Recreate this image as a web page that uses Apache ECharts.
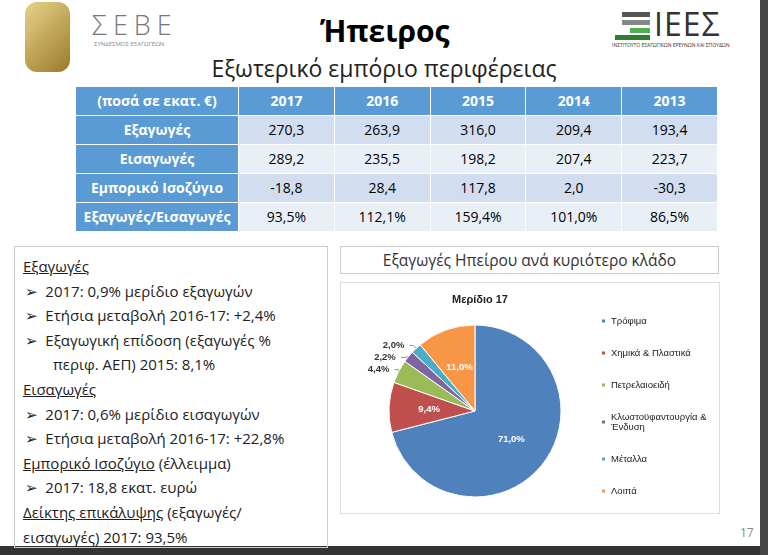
<!DOCTYPE html>
<html><head><meta charset="utf-8">
<script src="https://cdn.jsdelivr.net/npm/echarts@6/dist/echarts.min.js"></script>
<style>
body{margin:0;width:768px;height:555px;background:#fff;font-family:"Open Sans","DejaVu Sans",sans-serif;position:relative;overflow:hidden}
.abs{position:absolute}
table{border-collapse:collapse;font-size:14px;table-layout:fixed}
td{height:29px;line-height:28px;text-align:center;border:1px solid #fff;padding:0;box-sizing:border-box}
.h td{background:#5b9bd5;color:#fff;font-weight:bold}
tr td.f{background:#5b9bd5;color:#fff;font-weight:bold}
.r1 td{background:#d2def0}.r2 td{background:#e9eff7}
.left{left:14px;top:246px;width:314px;height:302px;border:1px solid #ccc;font-size:15px;line-height:24.6px;color:#222;box-sizing:border-box;padding-top:7px}
.left div{padding-left:8px;white-space:nowrap}.left .b{padding-left:10px}
</style></head><body>
<div class="abs" style="left:0;top:546px;width:768px;height:9px;background:#333"></div>
<div class="abs" style="left:760px;top:0;width:8px;height:555px;background:#444"></div>
<div class="abs" style="left:25px;top:2px;width:45px;height:70px;background:linear-gradient(135deg,#e8d38a,#9a7a2a);border-radius:12px"></div>
<div class="abs" style="left:92px;top:6px;font-size:27px;letter-spacing:6px;color:#777;font-weight:300">ΣΕΒΕ</div>
<div class="abs" style="left:94px;top:40px;font-size:6px;color:#888">ΣΥΝΔΕΣΜΟΣ ΕΞΑΓΩΓΕΩΝ</div>
<div class="abs" style="left:320px;top:10px;font-size:30px;font-weight:bold;color:#000">Ήπειρος</div>
<div class="abs" style="left:622px;top:12px;width:28px;height:5px;background:#555"></div>
<div class="abs" style="left:622px;top:20px;width:28px;height:5px;background:#888"></div>
<div class="abs" style="left:630px;top:28px;width:20px;height:5px;background:#4caf50"></div>
<div class="abs" style="left:615px;top:35px;width:35px;height:5px;background:#2e7d32"></div>
<div class="abs" style="left:654px;top:2px;font-size:32px;color:#333;letter-spacing:1px">ΙΕΕΣ</div>
<div class="abs" style="left:612px;top:42px;font-size:5px;color:#333">ΙΝΣΤΙΤΟΥΤΟ ΕΞΑΓΩΓΙΚΩΝ ΕΡΕΥΝΩΝ ΚΑΙ ΣΠΟΥΔΩΝ</div>
<div class="abs" style="left:0;width:768px;top:52px;text-align:center;font-size:23px;color:#222">Εξωτερικό εμπόριο περιφέρειας</div>
<table class="abs" style="left:75px;top:86px;width:643px" id="tbl"></table>
<div class="abs left" id="left"></div>
<div class="abs" style="left:340px;top:246px;width:377px;height:26px;border:1px solid #ccc;text-align:center;font-size:15.5px;line-height:26px;color:#333">Εξαγωγές Ηπείρου ανά κυριότερο κλάδο</div>
<div class="abs" style="left:340px;top:282px;width:378px;height:230px;border:1px solid #ddd" id="c"></div>
<div class="abs" style="left:740px;top:524px;font-size:12px;color:#888">17</div>
<script>
const years=['2017','2016','2015','2014','2013'];
const rowNames=['Εξαγωγές','Εισαγωγές','Εμπορικό Ισοζύγιο','Εξαγωγές/Εισαγωγές'];
const exportsV=['270,3','263,9','316,0','209,4','193,4'];
const importsV=['289,2','235,5','198,2','207,4','223,7'];
const balanceV=['-18,8','28,4','117,8','2,0','-30,3'];
const ratioV=['93,5%','112,1%','159,4%','101,0%','86,5%'];
const sectors=['Τρόφιμα','Χημικά & Πλαστικά','Πετρελαιοειδή','Κλωστοϋφαντουργία & Ένδυση','Μέταλλα','Λοιπά'];
const shares=[71.0,9.4,4.4,2.2,2.0,11.0];
const colors=['#4f81bd','#c0504d','#9bbb59','#8064a2','#4bacc6','#f79646'];
let h='<tr class="h"><td style="width:163px">(ποσά σε εκατ. €)</td>'+years.map(y=>'<td>'+y+'</td>').join('')+'</tr>';
[exportsV,importsV,balanceV,ratioV].forEach((r,i)=>{h+='<tr class="r'+(i%2+1)+'"><td class="f">'+rowNames[i]+'</td>'+r.map(v=>'<td>'+v+'</td>').join('')+'</tr>';});
document.getElementById('tbl').innerHTML=h;
const lines=[['u','Εξαγωγές'],['b','2017: 0,9% μερίδιο εξαγωγών'],['b','Ετήσια μεταβολή 2016-17: +2,4%'],['b','Εξαγωγική επίδοση (εξαγωγές %'],['c','περιφ. ΑΕΠ) 2015: 8,1%'],['u','Εισαγωγές'],['b','2017: 0,6% μερίδιο εισαγωγών'],['b','Ετήσια μεταβολή 2016-17: +22,8%'],['m','<u>Εμπορικό Ισοζύγιο</u> (έλλειμμα)'],['b','2017: 18,8 εκατ. ευρώ'],['m','<u>Δείκτης επικάλυψης</u> (εξαγωγές/'],['p','εισαγωγές) 2017: 93,5%']];
document.getElementById('left').innerHTML=lines.map(([t,s])=>t=='u'?'<div><u>'+s+'</u></div>':t=='b'?'<div class="b">➢&nbsp; '+s+'</div>':t=='c'?'<div style="padding-left:38px">'+s+'</div>':'<div>'+s+'</div>').join('');
const ch=echarts.init(document.getElementById('c'));
ch.setOption({
 title:{text:'Μερίδιο 17',left:134,top:6,textAlign:'center',textStyle:{fontSize:11,fontWeight:'bold',color:'#222'}},
 legend:{orient:'vertical',left:254,top:28,itemGap:22,itemWidth:5,itemHeight:5,icon:'rect',textStyle:{fontSize:9.5,color:'#222',fontWeight:500},formatter:n=>n=='Κλωστοϋφαντουργία & Ένδυση'?'Κλωστοϋφαντουργία &\nΈνδυση':n},
 series:[{type:'pie',center:[134,128],radius:86,startAngle:90,clockwise:true,
  data:sectors.map((n,i)=>({name:n,value:shares[i],itemStyle:{color:colors[i]},
   label:(i==2||i==3||i==4)?{position:'outside',color:'#333'}:{position:'inside',color:'#fff'}})),
  itemStyle:{borderColor:'#fff',borderWidth:1},
  label:{formatter:p=>p.value.toFixed(1).replace('.',',')+'%',fontSize:9.5,fontWeight:'bold'},
  labelLine:{length:4,length2:4,lineStyle:{color:'#999'}}}]
});
</script></body></html>
